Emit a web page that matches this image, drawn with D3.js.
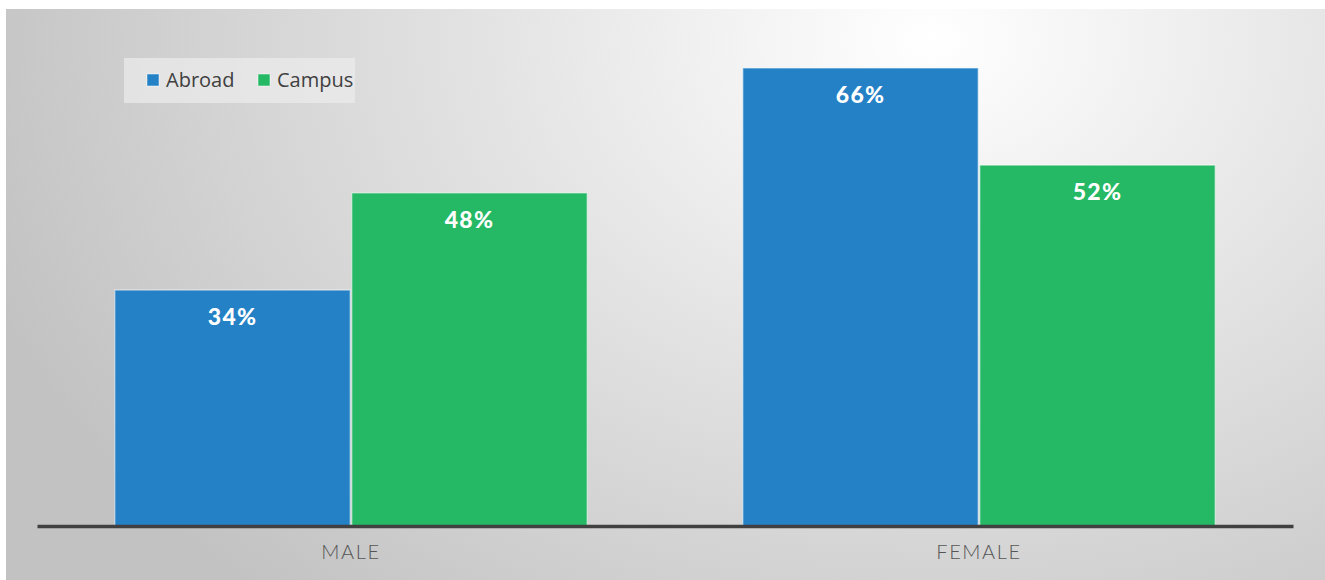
<!DOCTYPE html>
<html><head><meta charset="utf-8">
<script src="https://cdn.jsdelivr.net/npm/d3@7"></script>
<style>html,body{margin:0;padding:0;background:#fff;}svg{display:block;}</style>
</head><body><svg id="c" width="1325" height="580"></svg>
<script>
const categories = ["MALE", "FEMALE"];
const seriesNames = ["Abroad", "Campus"];
const abroadValues = [34, 66];
const campusValues = [48, 52];
const seriesColors = ["#2481c6", "#25b865"];

const svg = d3.select("#c");
const defs = svg.append("defs");
const grad = defs.append("radialGradient").attr("id", "bg")
  .attr("gradientUnits", "userSpaceOnUse")
  .attr("cx", 930).attr("cy", 40).attr("r", 1000)
  .attr("gradientTransform", "translate(930,40) scale(1,0.75) translate(-930,-40)");
grad.append("stop").attr("offset", "0").attr("stop-color", "#ffffff");
grad.append("stop").attr("offset", "0.45").attr("stop-color", "#e3e3e3");
grad.append("stop").attr("offset", "1").attr("stop-color", "#c2c2c2");
svg.append("rect").attr("x", 6).attr("y", 9).attr("width", 1319).attr("height", 571).attr("fill", "url(#bg)");

const left = 37, right = 1293, baseY = 526;
const x0 = d3.scaleBand().domain(categories).range([left, right]).paddingInner(0).paddingOuter(0);
const x1 = d3.scaleBand().domain(seriesNames).range([0, x0.bandwidth()]).paddingInner(0).paddingOuter(0.325);
const y = d3.scaleLinear().domain([0, 70]).range([baseY, baseY - 70 * 6.94]);

const rows = categories.map((c, i) => ({cat: c, vals: [abroadValues[i], campusValues[i]]}));
const g = svg.append("g");
rows.forEach(r => {
  r.vals.forEach((v, j) => {
    const bx = x0(r.cat) + x1(seriesNames[j]);
    g.append("rect")
      .attr("x", bx + 0.75).attr("y", y(v))
      .attr("width", x1.bandwidth() - 1.5).attr("height", baseY - y(v))
      .attr("fill", seriesColors[j])
      .attr("stroke", "rgba(255,255,255,0.45)").attr("stroke-width", 1.5);
    g.append("text")
      .attr("x", bx + x1.bandwidth() / 2).attr("y", y(v) + 35)
      .attr("text-anchor", "middle")
      .attr("font-family", "Lato, 'Open Sans', sans-serif")
      .attr("font-weight", 900).attr("font-size", 23)
      .attr("letter-spacing", 1.2)
      .attr("fill", "#ffffff").text(v + "%");
  });
});

// axis
const xAxis = d3.axisBottom(x0).tickSize(0).tickPadding(19);
const ax = svg.append("g").attr("transform", `translate(0,${baseY})`).call(xAxis);
ax.select(".domain").attr("stroke", "#404040").attr("stroke-width", 3.5);
ax.selectAll("text")
  .attr("font-family", "Lato, 'Open Sans', sans-serif")
  .attr("font-weight", 300).attr("font-size", 20)
  .attr("letter-spacing", 1.6)
  .attr("fill", "#555555");

// legend
const lg = svg.append("g");
lg.append("rect").attr("x", 124).attr("y", 58).attr("width", 231).attr("height", 45)
  .attr("fill", "rgba(236,236,236,0.7)");
const legendX = [147, 258];
seriesNames.forEach((s, i) => {
  lg.append("rect").attr("x", legendX[i]).attr("y", 74).attr("width", 12).attr("height", 12)
    .attr("fill", seriesColors[i]).attr("stroke", "rgba(255,255,255,0.5)").attr("stroke-width", 1);
  lg.append("text").attr("x", legendX[i] + 19).attr("y", 87)
    .attr("font-family", "'Open Sans', sans-serif").attr("font-size", 20)
    .attr("fill", "#404040").text(s);
});
</script></body></html>
